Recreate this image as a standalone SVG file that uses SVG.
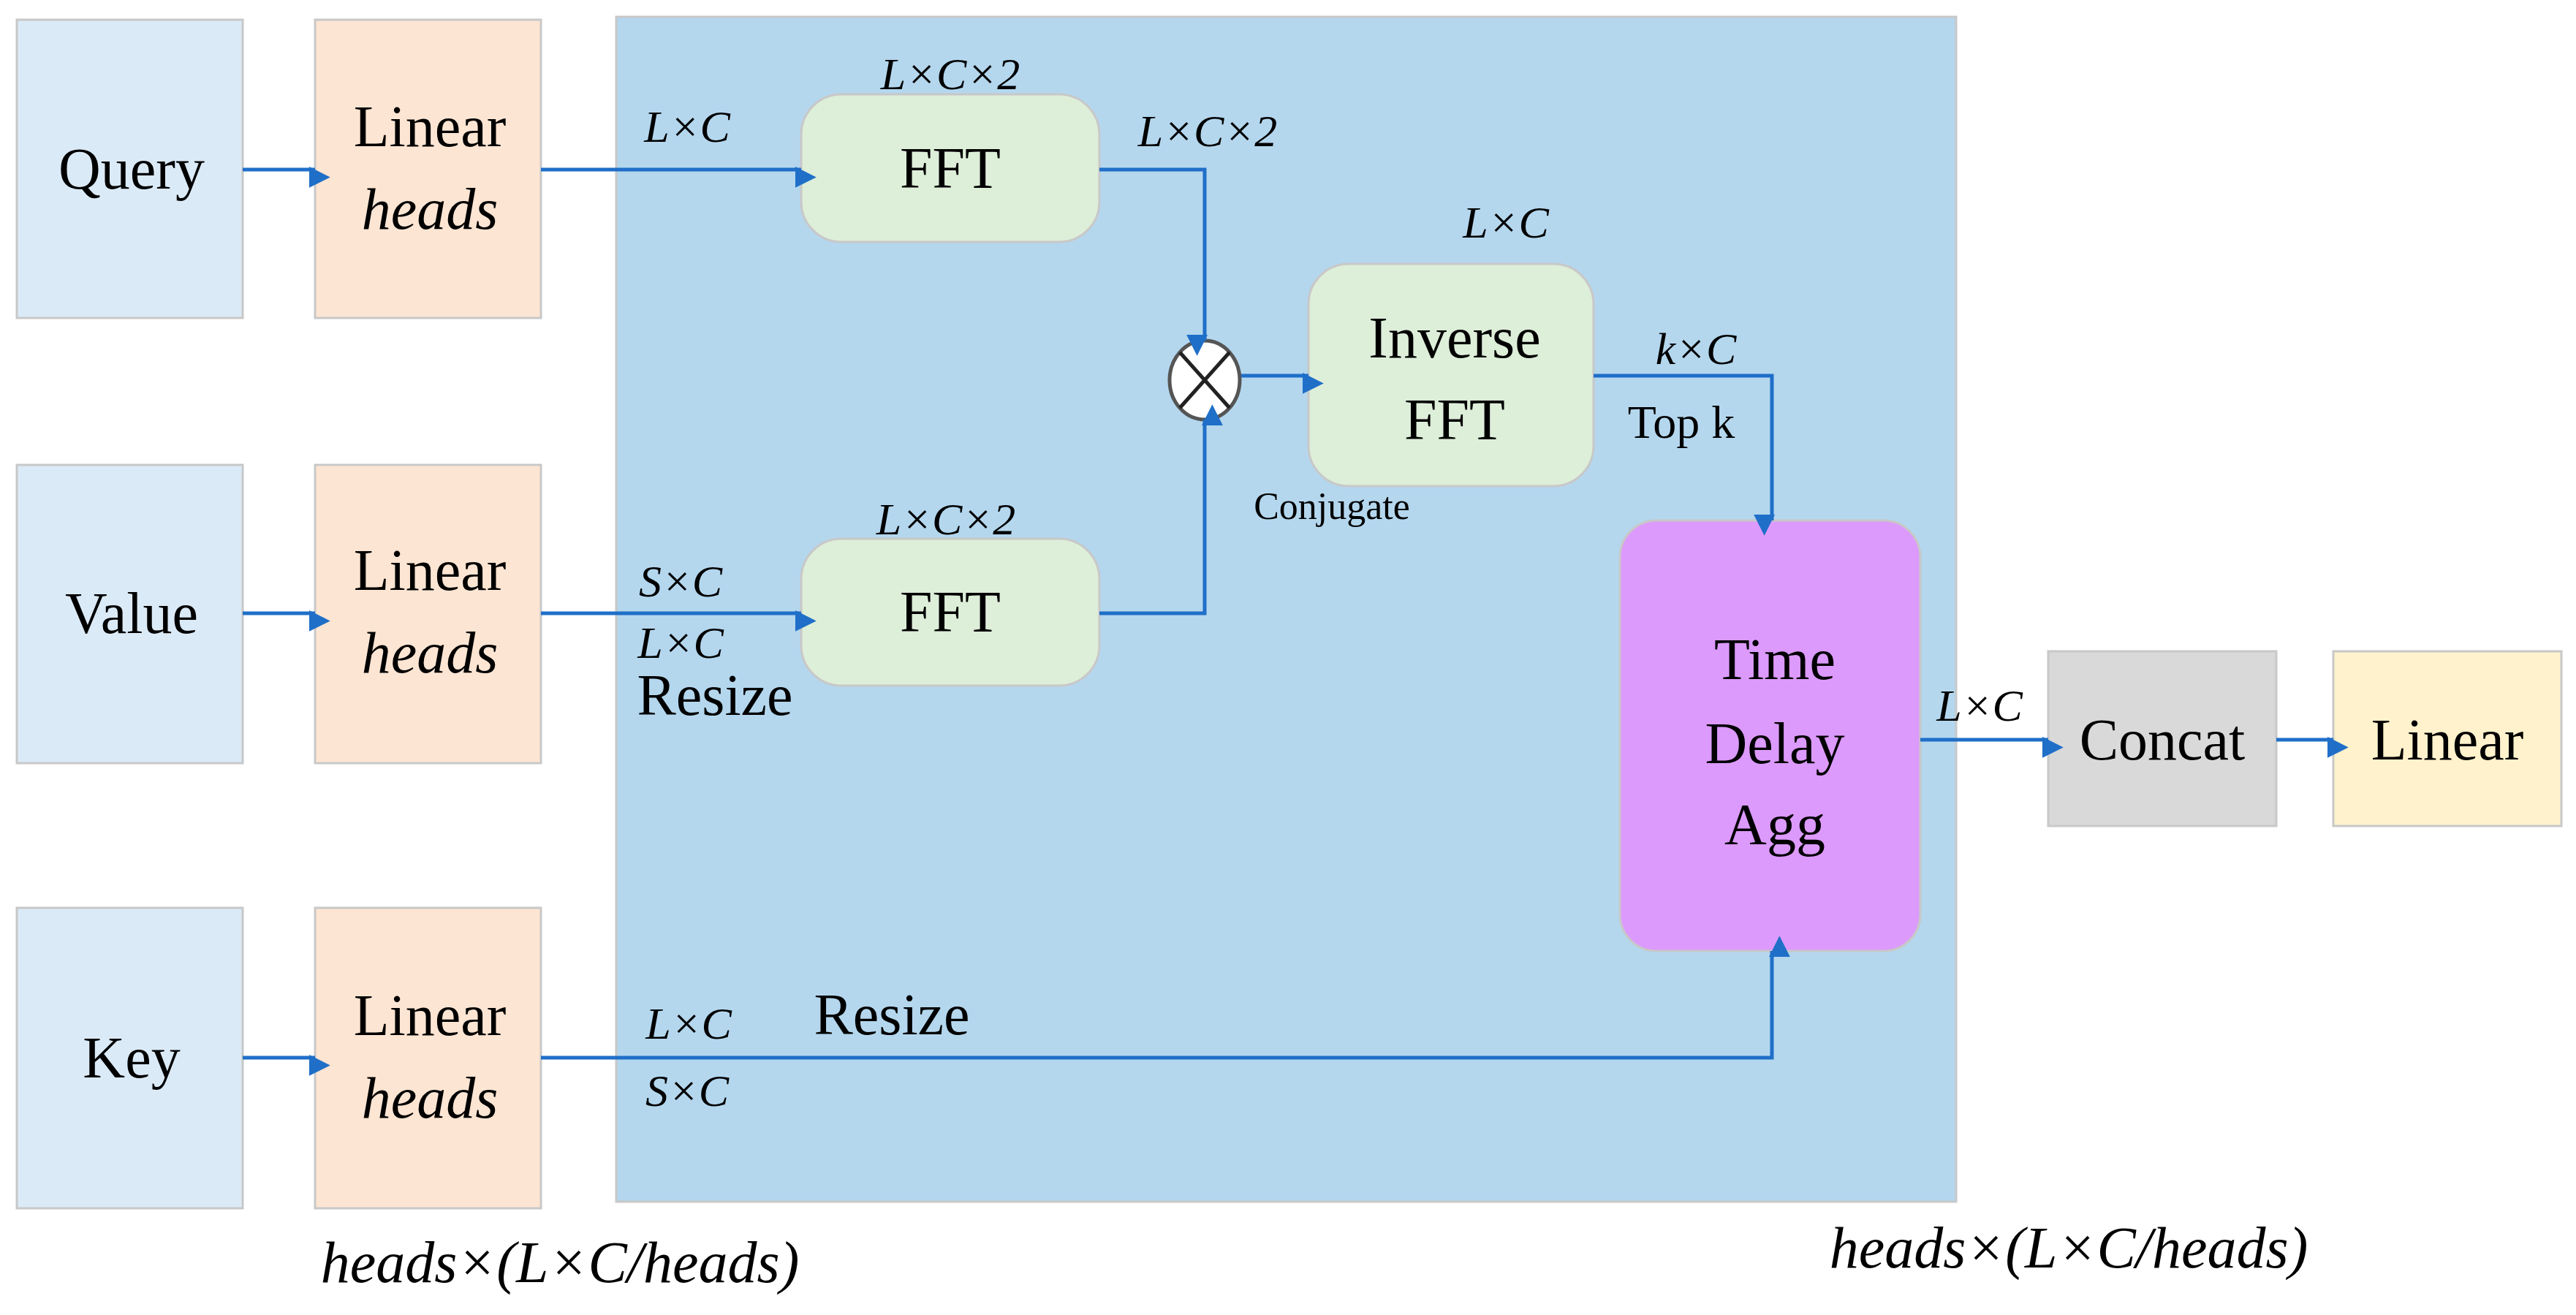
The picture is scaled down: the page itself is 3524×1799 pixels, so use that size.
<svg xmlns="http://www.w3.org/2000/svg" width="3524" height="1799" viewBox="0 0 3524 1799">
<defs>
<marker id="ah" viewBox="0 0 10 10" refX="10" refY="5" markerWidth="8" markerHeight="8" markerUnits="userSpaceOnUse" orient="auto" style="overflow:visible">
<path d="M0,0 L10,5 L0,10 z" fill="#1f6fc8" transform="scale(3.6)" />
</marker>
<style>
text{font-family:"Liberation Serif","Times New Roman",serif;fill:#000;text-anchor:middle}
.b{font-size:80px}.m{font-size:62px;font-style:italic}.i{font-style:italic}
.in{fill:#dbeaf7;stroke:#c8c8c8;stroke-width:3}
.ln{fill:#fde5d3;stroke:#c8c8c8;stroke-width:3}
.ff{fill:#ddeed9;stroke:#c8c8c8;stroke-width:3}
.c{fill:none;stroke:#1f6fc8;stroke-width:5;marker-end:url(#ah)}
</style>
</defs>
<rect width="3524" height="1799" fill="#fff"/>
<g id="bg"><rect x="843" y="23" width="1833" height="1621" fill="#b4d7ee" stroke="#c8c8c8" stroke-width="3"/></g>
<g id="query"><rect class="in" x="23" y="27" width="309" height="408"/><text class="b" x="180" y="258">Query</text></g>
<g id="value"><rect class="in" x="23" y="636" width="309" height="408"/><text class="b" x="180" y="866">Value</text></g>
<g id="key"><rect class="in" x="23" y="1242" width="309" height="411"/><text class="b" x="180" y="1474">Key</text></g>
<g id="lin1"><rect class="ln" x="431" y="27" width="309" height="408"/><text class="b" x="588" y="200">Linear</text><text class="b i" x="588" y="313">heads</text></g>
<g id="lin2"><rect class="ln" x="431" y="636" width="309" height="408"/><text class="b" x="588" y="807">Linear</text><text class="b i" x="588" y="920">heads</text></g>
<g id="lin3"><rect class="ln" x="431" y="1242" width="309" height="411"/><text class="b" x="588" y="1416">Linear</text><text class="b i" x="588" y="1529">heads</text></g>
<g id="fft1"><rect class="ff" x="1096" y="129" width="408" height="202" rx="55"/><text class="b" x="1300" y="257">FFT</text></g>
<g id="fft2"><rect class="ff" x="1096" y="737" width="408" height="201" rx="55"/><text class="b" x="1300" y="864">FFT</text></g>
<g id="ifft"><rect class="ff" x="1790" y="361" width="390" height="304" rx="55"/><text class="b" x="1990" y="489">Inverse</text><text class="b" x="1990" y="601">FFT</text></g>
<g id="mul"><ellipse cx="1648" cy="520" rx="48" ry="54" fill="#fff" stroke="#555" stroke-width="5"/><path d="M1614,482 L1682,558 M1682,482 L1614,558" stroke="#222" stroke-width="5"/></g>
<g id="tda"><rect x="2216" y="712" width="411" height="589" rx="50" fill="#dc9afc" stroke="#c8c8c8" stroke-width="3"/><text class="b" x="2428" y="929">Time</text><text class="b" x="2428" y="1044">Delay</text><text class="b" x="2428" y="1155">Agg</text></g>
<g id="concat"><rect x="2802" y="891" width="312" height="239" fill="#d9d9d9" stroke="#c8c8c8" stroke-width="3"/><text class="b" x="2958" y="1039">Concat</text></g>
<g id="linout"><rect x="3192" y="891" width="312" height="239" fill="#fff2cc" stroke="#c8c8c8" stroke-width="3"/><text class="b" x="3348" y="1039">Linear</text></g>
<g id="connectors">
<path class="c" d="M332,232 H431"/>
<path class="c" d="M332,839 H431"/>
<path class="c" d="M332,1447 H431"/>
<path class="c" d="M740,232 H1096"/>
<path class="c" d="M740,839 H1096"/>
<path class="c" d="M1504,232 H1648 V466"/>
<path class="c" d="M1504,839 H1648 V574"/>
<path class="c" d="M1698,514 H1790"/>
<path class="c" d="M2180,514 H2424 V712"/>
<path class="c" d="M740,1447 H2424 V1301"/>
<path class="c" d="M2627,1012 H2802"/>
<path class="c" d="M3114,1012 H3192"/>
</g>
<g id="labels">
<text class="m" x="940" y="194">L×C</text>
<text class="m" x="1300" y="122">L×C×2</text>
<text class="m" x="1652" y="200">L×C×2</text>
<text class="m" x="2060" y="325">L×C</text>
<text class="m" x="2320" y="498">k×C</text>
<text x="2300" y="599" style="font-size:64px">Top k</text>
<text x="1822" y="710" style="font-size:52px">Conjugate</text>
<text class="m" x="1294" y="731">L×C×2</text>
<text class="m" x="931" y="816">S×C</text>
<text class="m" x="931" y="900">L×C</text>
<text x="978" y="978" style="font-size:80px">Resize</text>
<text x="1220" y="1415" style="font-size:80px">Resize</text>
<text class="m" x="942" y="1421">L×C</text>
<text class="m" x="940" y="1513">S×C</text>
<text class="m" x="2708" y="986">L×C</text>
<text class="b i" x="766" y="1754">heads×(L×C/heads)</text>
<text class="b i" x="2830" y="1734">heads×(L×C/heads)</text>
</g>
</svg>
